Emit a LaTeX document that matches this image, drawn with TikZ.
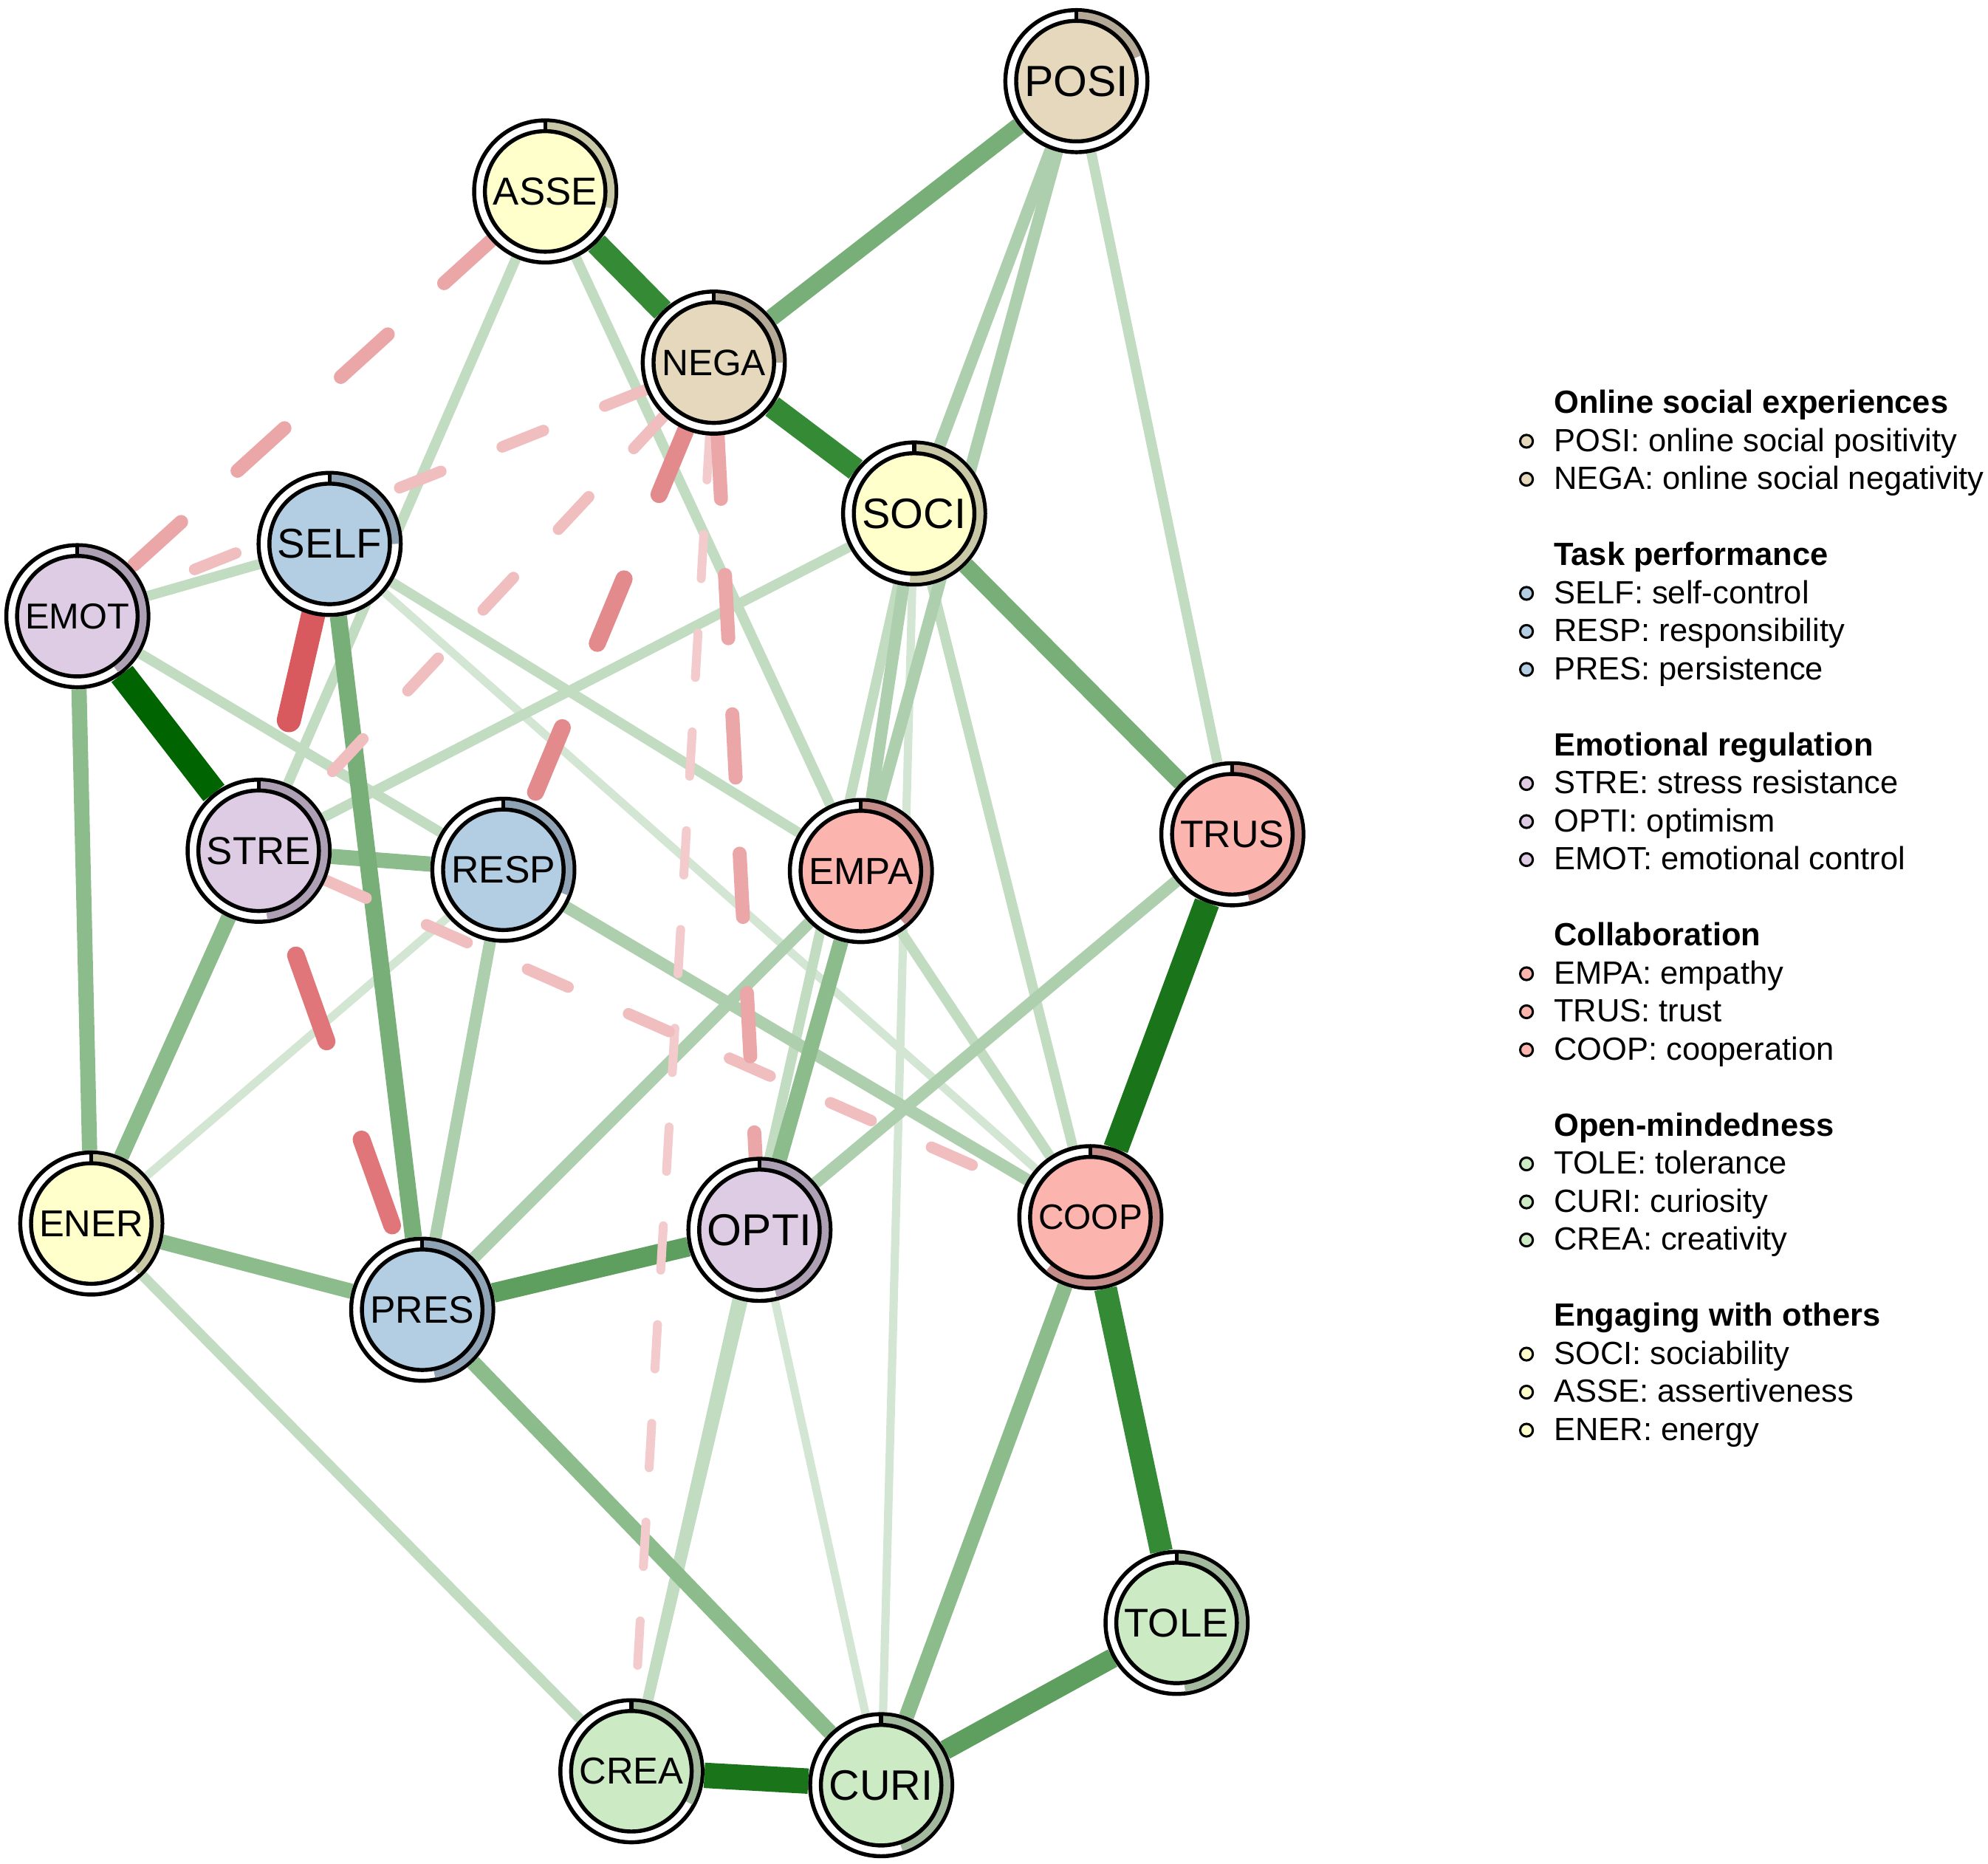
\documentclass[tikz,border=0pt]{standalone}
\usepackage{graphicx}
\usepackage{fontspec}
\setmainfont{Liberation Sans}
\usetikzlibrary{calc}
\pgfdeclarelayer{edgelayer}
\pgfsetlayers{edgelayer,main}
% node fills and pie rings
\definecolor{onl}{HTML}{E5D8BD}\definecolor{onlR}{HTML}{B3A996}
\definecolor{tsk}{HTML}{B3CDE3}\definecolor{tskR}{HTML}{8FA3B5}
\definecolor{emo}{HTML}{DECBE4}\definecolor{emoR}{HTML}{ADA0B5}
\definecolor{clb}{HTML}{FBB4AE}\definecolor{clbR}{HTML}{C48D89}
\definecolor{opn}{HTML}{CCEBC5}\definecolor{opnR}{HTML}{A2B99E}
\definecolor{eng}{HTML}{FFFFCC}\definecolor{engR}{HTML}{C8C8A6}
% edge colours
\definecolor{gA}{HTML}{D3E6D3}\definecolor{gB}{HTML}{C2DCC2}
\definecolor{gC}{HTML}{ADCFAD}\definecolor{gD}{HTML}{8CBC8C}
\definecolor{gE}{HTML}{78AF78}\definecolor{gF}{HTML}{5E9E5E}
\definecolor{gG}{HTML}{358A35}\definecolor{gH}{HTML}{1A751A}
\definecolor{gI}{HTML}{006400}
\definecolor{rA}{HTML}{F3CBCC}\definecolor{rB}{HTML}{F0BEBF}
\definecolor{rC}{HTML}{EBA6A8}\definecolor{rD}{HTML}{E38A8D}
\definecolor{rE}{HTML}{E07679}\definecolor{rF}{HTML}{D95A5E}
\newcommand{\pienode}[4]{%
    \node[vnode] (#1) at (#2) {};
    \draw[piearc=#3R] (#1.center) ++(90:51.2) arc[start angle=90, delta angle=-360*#4, radius=51.2];
    \node[inode, fill=#3] (#1-lab) at (#1.center) {\resizebox{0.82cm}{!}{#1}};
    \draw[tick] ($(#1.center)+(0,47)$) -- ($(#1.center)+(0,56)$);
}

\begin{document}
\begin{tikzpicture}[x=0.01cm, y=0.01cm,
    vnode/.style={circle, draw, fill=white, line width=0.9pt, minimum size=1.12cm, inner sep=0pt},
    inode/.style={circle, draw, line width=0.9pt, minimum size=0.95cm, inner sep=0pt},
    piearc/.style={draw=#1, line width=0.07cm},
    tick/.style={line width=0.9pt},
    g1/.style={draw=gA, line width=0.065cm},
    g2/.style={draw=gB, line width=0.08cm},
    g3/.style={draw=gC, line width=0.095cm},
    g4/.style={draw=gD, line width=0.12cm},
    g5/.style={draw=gE, line width=0.135cm},
    g6/.style={draw=gF, line width=0.155cm},
    g7/.style={draw=gG, line width=0.18cm},
    g8/.style={draw=gH, line width=0.2cm},
    g9/.style={draw=gI, line width=0.21cm},
    r1/.style={draw=rA, line width=0.07cm, line cap=round, dash pattern=on 0.35cm off 0.43cm},
    r2/.style={draw=rB, line width=0.09cm, line cap=round, dash pattern=on 0.35cm off 0.52cm},
    r3/.style={draw=rC, line width=0.11cm, line cap=round, dash pattern=on 0.5cm off 0.6cm},
    r4/.style={draw=rD, line width=0.135cm, line cap=round, dash pattern=on 0.55cm off 0.72cm},
    r5/.style={draw=rE, line width=0.14cm, line cap=round, dash pattern=on 0.72cm off 0.82cm, dash phase=1.24cm},
    r6/.style={draw=rF, line width=0.19cm, line cap=round, dash pattern=on 0.85cm off 0.9cm},
    lgtitle/.style={anchor=base west, inner sep=0pt, font=\fontsize{7.2}{8.6}\selectfont\bfseries},
    lgitem/.style={anchor=base west, inner sep=0pt, font=\fontsize{7.2}{8.6}\selectfont},
    lgdot/.style={circle, draw, line width=0.5pt, minimum size=0.1cm, inner sep=0pt}]
\useasboundingbox (0,0) rectangle (1568,-1470);

% nodes
\pienode{POSI}{849,-64}{onl}{0.19}
\pienode{NEGA}{563,-286}{onl}{0.25}
\pienode{ASSE}{430,-151}{eng}{0.29}
\pienode{SOCI}{721,-405}{eng}{0.51}
\pienode{ENER}{72,-965}{eng}{0.38}
\pienode{SELF}{260,-429}{tsk}{0.25}
\pienode{RESP}{397,-686}{tsk}{0.31}
\pienode{PRES}{333,-1033}{tsk}{0.47}
\pienode{EMOT}{61,-486}{emo}{0.40}
\pienode{STRE}{204,-671}{emo}{0.48}
\pienode{OPTI}{599,-970}{emo}{0.46}
\pienode{EMPA}{679,-687}{clb}{0.39}
\pienode{TRUS}{972,-658}{clb}{0.46}
\pienode{COOP}{860,-960}{clb}{0.61}
\pienode{TOLE}{928,-1280}{opn}{0.48}
\pienode{CREA}{498,-1397}{opn}{0.33}
\pienode{CURI}{695,-1408}{opn}{0.45}

% edges
\begin{pgfonlayer}{edgelayer}
\draw[g1] (SOCI) -- (CURI);
\draw[g1] (OPTI) -- (CURI);
\draw[g1] (RESP) -- (ENER);
\draw[g1] (SELF) -- (COOP);
\draw[g2] (POSI) -- (TRUS);
\draw[g2] (ASSE) -- (STRE);
\draw[g2] (ASSE) -- (EMPA);
\draw[g2] (SOCI) -- (STRE);
\draw[g2] (SOCI) -- (COOP);
\draw[g2] (SOCI) -- (CREA);
\draw[g2] (EMOT) -- (SELF);
\draw[g2] (EMOT) -- (RESP);
\draw[g2] (SELF) -- (EMPA);
\draw[g2] (EMPA) -- (COOP);
\draw[g2] (ENER) -- (CREA);
\draw[g2] (OPTI) -- (CREA);
\draw[g3] (POSI) -- (SOCI);
\draw[g3] (POSI) -- (EMPA);
\draw[g3] (SOCI) -- (EMPA);
\draw[g3] (RESP) -- (PRES);
\draw[g3] (RESP) -- (COOP);
\draw[g3] (EMPA) -- (PRES);
\draw[g3] (TRUS) -- (OPTI);
\draw[g4] (EMOT) -- (ENER);
\draw[g4] (STRE) -- (RESP);
\draw[g4] (STRE) -- (ENER);
\draw[g4] (EMPA) -- (OPTI);
\draw[g4] (ENER) -- (PRES);
\draw[g4] (PRES) -- (CURI);
\draw[g4] (COOP) -- (CURI);
\draw[g5] (NEGA) -- (POSI);
\draw[g5] (SELF) -- (PRES);
\draw[g5] (SOCI) -- (TRUS);
\draw[g6] (PRES) -- (OPTI);
\draw[g6] (TOLE) -- (CURI);
\draw[g7] (ASSE) -- (NEGA);
\draw[g7] (NEGA) -- (SOCI);
\draw[g7] (COOP) -- (TOLE);
\draw[g8] (TRUS) -- (COOP);
\draw[g8] (CREA) -- (CURI);
\draw[g9] (EMOT) -- (STRE);
% negative edges
\draw[r1] (NEGA) -- (CREA);
\draw[r2] (NEGA) -- (EMOT);
\draw[r2] (NEGA) -- (STRE);
\draw[r2] (STRE) -- (COOP);
\draw[r3] (ASSE) -- (EMOT);
\draw[r3] (NEGA) -- (OPTI);
\draw[r4] (NEGA) -- (RESP);
\draw[r5] (STRE) -- (PRES);
\draw[r6] (SELF) -- (STRE);
\end{pgfonlayer}

% legend
\node[lgtitle] (lt1) at (1225,-326) {Online social experiences};
\node[lgdot, fill=onl] (ld1) at (1204,-348) {};
\node[lgitem] (li1) at (1225,-356) {POSI: online social positivity};
\node[lgdot, fill=onl] (ld2) at (1204,-378) {};
\node[lgitem] (li2) at (1225,-386) {NEGA: online social negativity};
\node[lgtitle] (lt2) at (1225,-446) {Task performance};
\node[lgdot, fill=tsk] (ld3) at (1204,-468) {};
\node[lgitem] (li3) at (1225,-476) {SELF: self-control};
\node[lgdot, fill=tsk] (ld4) at (1204,-498) {};
\node[lgitem] (li4) at (1225,-506) {RESP: responsibility};
\node[lgdot, fill=tsk] (ld5) at (1204,-528) {};
\node[lgitem] (li5) at (1225,-536) {PRES: persistence};
\node[lgtitle] (lt3) at (1225,-596) {Emotional regulation};
\node[lgdot, fill=emo] (ld6) at (1204,-618) {};
\node[lgitem] (li6) at (1225,-626) {STRE: stress resistance};
\node[lgdot, fill=emo] (ld7) at (1204,-648) {};
\node[lgitem] (li7) at (1225,-656) {OPTI: optimism};
\node[lgdot, fill=emo] (ld8) at (1204,-678) {};
\node[lgitem] (li8) at (1225,-686) {EMOT: emotional control};
\node[lgtitle] (lt4) at (1225,-746) {Collaboration};
\node[lgdot, fill=clb] (ld9) at (1204,-768) {};
\node[lgitem] (li9) at (1225,-776) {EMPA: empathy};
\node[lgdot, fill=clb] (ld10) at (1204,-798) {};
\node[lgitem] (li10) at (1225,-806) {TRUS: trust};
\node[lgdot, fill=clb] (ld11) at (1204,-828) {};
\node[lgitem] (li11) at (1225,-836) {COOP: cooperation};
\node[lgtitle] (lt5) at (1225,-896) {Open-mindedness};
\node[lgdot, fill=opn] (ld12) at (1204,-918) {};
\node[lgitem] (li12) at (1225,-926) {TOLE: tolerance};
\node[lgdot, fill=opn] (ld13) at (1204,-948) {};
\node[lgitem] (li13) at (1225,-956) {CURI: curiosity};
\node[lgdot, fill=opn] (ld14) at (1204,-978) {};
\node[lgitem] (li14) at (1225,-986) {CREA: creativity};
\node[lgtitle] (lt6) at (1225,-1046) {Engaging with others};
\node[lgdot, fill=eng] (ld15) at (1204,-1068) {};
\node[lgitem] (li15) at (1225,-1076) {SOCI: sociability};
\node[lgdot, fill=eng] (ld16) at (1204,-1098) {};
\node[lgitem] (li16) at (1225,-1106) {ASSE: assertiveness};
\node[lgdot, fill=eng] (ld17) at (1204,-1128) {};
\node[lgitem] (li17) at (1225,-1136) {ENER: energy};
\end{tikzpicture}
\end{document}
